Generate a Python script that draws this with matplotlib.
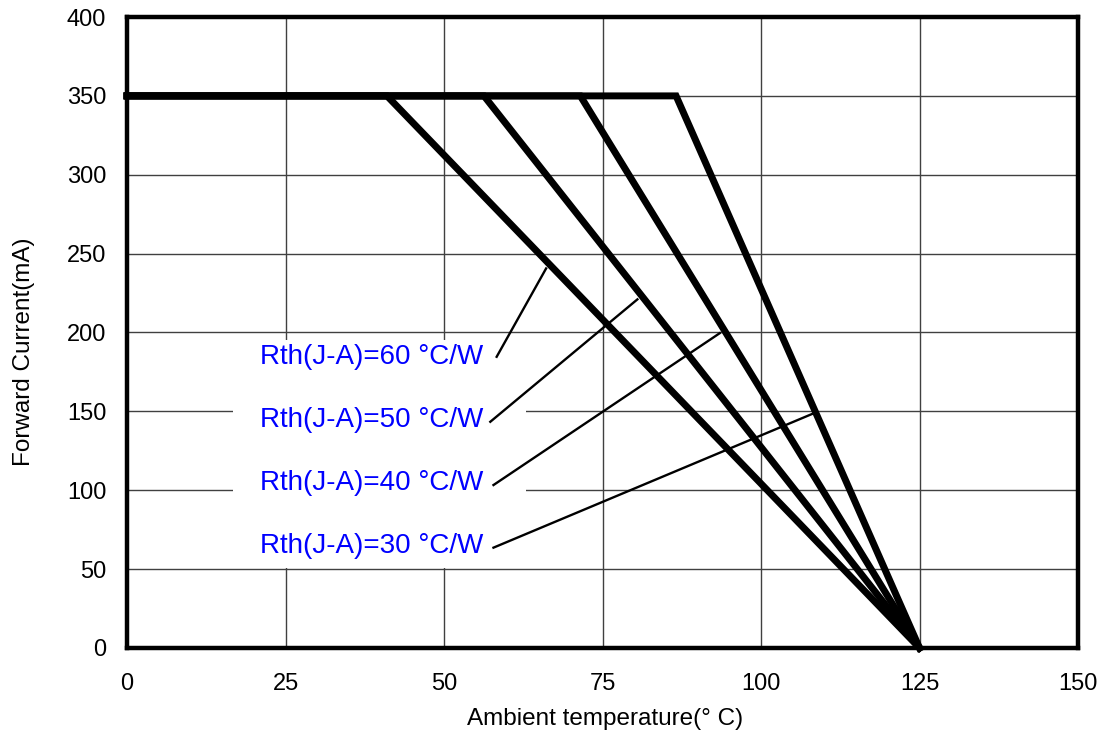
import matplotlib
matplotlib.use("Agg")
import matplotlib.pyplot as plt
from matplotlib.patches import Rectangle

# Data
rth_labels = ["Rth(J-A)=60 °C/W", "Rth(J-A)=50 °C/W", "Rth(J-A)=40 °C/W", "Rth(J-A)=30 °C/W"]
knee_temps = [41.0, 56.3, 71.5, 86.6]   # temperature where derating starts
i_max = 350.0
t_end = 125.0
# leader lines (label end -> curve point)
leader_x0 = [58.3, 57.3, 57.8, 57.8]
leader_y0 = [184.6, 143.4, 103.3, 63.6]
leader_x1 = [66.1, 80.5, 93.5, 108.5]
leader_y1 = [240.6, 221.0, 199.6, 149.1]
label_x = 21.0
label_y = [180, 140, 100, 60]

xticks = [0, 25, 50, 75, 100, 125, 150]
yticks = [0, 50, 100, 150, 200, 250, 300, 350, 400]

regular = ['Liberation Sans', 'DejaVu Sans']

fig = plt.figure(figsize=(10.98, 7.37), dpi=100)
ax = fig.add_axes([0.1157, 0.1208, 0.8661, 0.8561])
ax.set_xlim(0, 150)
ax.set_ylim(0, 400)
ax.set_xticks(xticks)
ax.set_yticks(yticks)
ax.grid(True, color='#404040', lw=1.0, zorder=1)
ax.set_axisbelow(True)

# white box behind labels
ax.add_patch(Rectangle((16.7, 50.5), 46.2, 145, facecolor='white', edgecolor='none', zorder=1.5))

for kt in knee_temps:
    ax.plot([0, kt, t_end], [i_max, i_max, 0], color='black', lw=5.0,
            solid_joinstyle='miter', zorder=3, clip_on=False)

for x0, y0, x1, y1 in zip(leader_x0, leader_y0, leader_x1, leader_y1):
    ax.plot([x0, x1], [y0, y1], color='black', lw=1.7, zorder=4)

for lab, y in zip(rth_labels, label_y):
    ax.text(label_x, y, lab, color='#0000ff', fontsize=20, family=regular,
            ha='left', va='baseline', zorder=5)

for s in ax.spines.values():
    s.set_linewidth(3.2)
    s.set_zorder(6)

ax.tick_params(axis='y', length=0, pad=15)
ax.tick_params(axis='x', length=0, pad=18)
for t in ax.get_yticklabels() + ax.get_xticklabels():
    t.set_family(regular)
    t.set_fontsize(17)

ax.set_xlabel("Ambient temperature(° C)", family=regular, fontsize=17.5,
              ha='center', va='center')
ax.xaxis.set_label_coords(0.503, -0.113)
ax.set_ylabel("Forward Current(mA)", family=regular, fontsize=17.5,
              ha='center', va='center')
ax.yaxis.set_label_coords(-0.108, 0.47)

fig.savefig("out.png", dpi=100)
